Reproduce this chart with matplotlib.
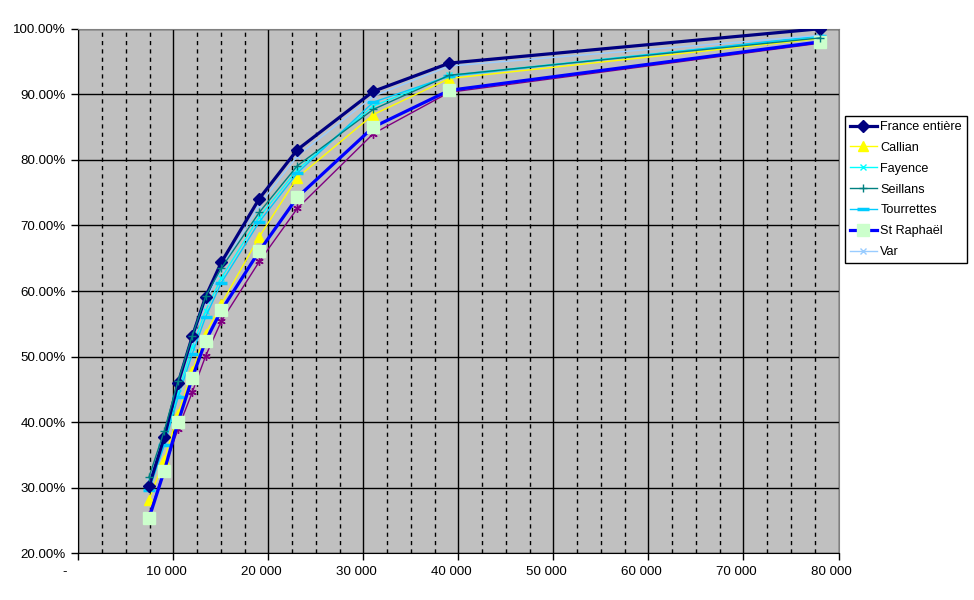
import numpy as np
import matplotlib
matplotlib.use('Agg')
import matplotlib.pyplot as plt
from matplotlib.ticker import MultipleLocator, FuncFormatter
from matplotlib.transforms import ScaledTranslation

plt.rcParams['font.family'] = ['Liberation Sans', 'DejaVu Sans']

# revenus (deciles) et parts cumulees (%)
revenus = [7450, 9050, 10500, 12000, 13400, 15050, 19050, 23050, 31050, 39050, 78100]

france = [30.25, 37.72, 45.95, 53.1, 59.15, 64.37, 74.1, 81.55, 90.45, 94.75, 100.0]
callian = [28.2, 34.3, 41.3, 47.8, 53.5, 58.0, 68.3, 77.3, 86.9, 92.4, 98.5]
fayence = [30.4, 37.0, 44.5, 51.5, 57.0, 62.0, 71.3, 78.5, 88.2, 92.9, 98.8]
seillans = [31.7, 38.7, 46.3, 53.2, 59.2, 63.5, 72.0, 79.1, 87.7, 92.9, 98.6]
tourrettes = [29.65, 36.5, 43.8, 50.45, 56.05, 61.25, 70.55, 78.0, 88.8, 92.75, 98.9]
st_raphael = [25.4, 32.6, 40.0, 46.8, 52.4, 57.05, 66.1, 74.3, 85.0, 90.6, 98.0]
var = [31.0, 38.3, 45.5, 52.5, 58.3, 63.5, 73.1, 80.6, 89.7, 94.3, 99.0]
autre = [25.8, 32.9, 39.0, 44.6, 50.1, 55.4, 64.5, 72.6, 84.0, 90.3, 97.8]

fig = plt.figure(figsize=(9.74, 6), dpi=100)
ax = fig.add_axes([0.0804, 0.0778, 0.7805, 0.8744])
ax.set_facecolor('#C0C0C0')

fs = 9.6

ax.plot(revenus, france, color='#000080', lw=2.3, marker='D', ms=6.5, mfc='#000080', mec='#000080', label='France entière', zorder=5)
ax.plot(revenus, callian, color='#FFFF00', lw=1, marker='^', ms=7, mfc='#FFFF00', mec='#FFFF00', label='Callian', zorder=4)
ax.plot(revenus, fayence, color='#00FFFF', lw=1, marker='x', ms=4, mew=1, mec='#00FFFF', label='Fayence', zorder=4)
ax.plot(revenus, seillans, color='#008080', lw=1, marker='+', ms=6, mew=1, mec='#008080', label='Seillans', zorder=6)
ax.plot(revenus, tourrettes, color='#00CCFF', lw=1, marker='_', ms=8, mew=2.5, mec='#00CCFF', label='Tourrettes', zorder=4)
ax.plot(revenus, st_raphael, color='#0000FF', lw=2.3, marker='s', ms=9, mfc='#CCFFCC', mec='#CCFFCC', label='St Raphaël', zorder=5)
ax.plot(revenus, var, color='#99CCFF', lw=1, marker='x', ms=4, mew=1, mec='#99CCFF', label='Var', zorder=4)
ax.plot(revenus, autre, color='#800080', lw=1, marker=(6, 2, 0), ms=6, mew=1, mec='#800080', label='_nolegend_', zorder=4)

ax.set_xlim(0, 80000)
ax.set_ylim(20, 100)

ax.xaxis.set_major_locator(MultipleLocator(10000))
ax.xaxis.set_minor_locator(MultipleLocator(2500))
ax.yaxis.set_major_locator(MultipleLocator(10))

ax.grid(which='major', color='black', lw=1, ls='-', zorder=1)
ax.grid(which='minor', axis='x', color='black', lw=1, ls=(0, (3, 3)), zorder=1)
ax.set_axisbelow(True)

def fmt_x(v, pos):
    if v == 0:
        return '-'
    return '{:,.0f}'.format(v).replace(',', ' ')

ax.xaxis.set_major_formatter(FuncFormatter(fmt_x))
ax.yaxis.set_major_formatter(FuncFormatter(lambda v, p: '{:.2f}%'.format(v)))

ax.tick_params(axis='both', which='major', direction='out', length=5, width=1, colors='black', labelsize=fs, pad=4)
ax.tick_params(axis='x', which='minor', length=0)
ax.tick_params(axis='x', pad=4)

# Excel decale les etiquettes vers la gauche
for lab in ax.get_xticklabels():
    dx = -14 if lab.get_text() == '-' else -7
    lab.set_transform(lab.get_transform() + ScaledTranslation(dx / 100, 0, fig.dpi_scale_trans))

for side in ['top', 'right']:
    ax.spines[side].set_color('#808080')
for side in ['left', 'bottom']:
    ax.spines[side].set_color('black')

leg = ax.legend(loc='upper left', bbox_to_anchor=(845 / 974, 1 - 116 / 600), bbox_transform=fig.transFigure,
                fontsize=9.1, frameon=True, fancybox=False, edgecolor='black', framealpha=1,
                borderaxespad=0, handlelength=2.1, handletextpad=0.3, labelspacing=0.7, borderpad=0.4)
leg.get_frame().set_linewidth(1)

fig.savefig('out.png', dpi=100)
